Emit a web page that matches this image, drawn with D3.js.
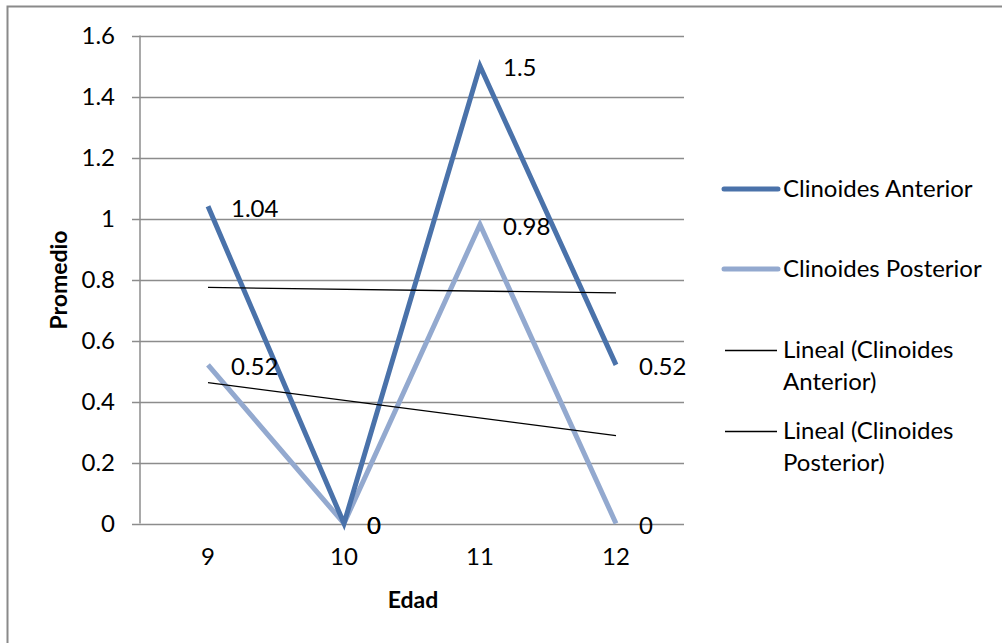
<!DOCTYPE html>
<html><head><meta charset="utf-8">
<script src="https://cdn.jsdelivr.net/npm/d3@7"></script>
<style>html,body{margin:0;padding:0;background:#fff;} svg{display:block;}</style>
</head><body>
<script>
const categories = ["9","10","11","12"];
const anterior = [1.04, 0, 1.5, 0.52];
const posterior = [0.52, 0, 0.98, 0];
const yTicks = [0, 0.2, 0.4, 0.6, 0.8, 1, 1.2, 1.4, 1.6];
const seriesNames = ["Clinoides Anterior", "Clinoides Posterior"];
const trendNames = [["Lineal (Clinoides", "Anterior)"], ["Lineal (Clinoides", "Posterior)"]];
const colors = ["#4a72aa", "#93a9cf"];

const W = 1002, H = 643;
const FONT = "Lato, 'Open Sans', sans-serif";
const FS = 24;
const svg = d3.select("body").append("svg").attr("width", W).attr("height", H)
  .style("font-family", FONT);

// outer border
svg.append("path").attr("d", `M7.5,${H} V6.5 H${W}`).attr("fill","none").attr("stroke","#8a8a8a").attr("stroke-width",2);

const plot = {l:140, r:684, t:35.5, b:523.5};
const x = d3.scaleBand().domain(categories).range([plot.l, plot.r]);
const y = d3.scaleLinear().domain([0,1.6]).range([plot.b, plot.t]);
const cx = c => x(c) + x.bandwidth()/2;

// gridlines
svg.append("g").selectAll("line").data(yTicks).join("line")
  .attr("x1", plot.l-8).attr("x2", plot.r)
  .attr("y1", d=>Math.round(y(d))+0.5).attr("y2", d=>Math.round(y(d))+0.5)
  .attr("stroke","#8c8c8c").attr("stroke-width",1.5);
// y axis line
svg.append("line").attr("x1",plot.l).attr("x2",plot.l).attr("y1",plot.t).attr("y2",plot.b)
  .attr("stroke","#8c8c8c").attr("stroke-width",1.5);

// y tick labels
svg.append("g").selectAll("text").data(yTicks).join("text")
  .attr("x", 115).attr("y", d=>y(d)).attr("dy","0.35em").attr("text-anchor","end")
  .attr("font-size", FS).attr("fill","#000").text(d=>String(d));
// x tick labels
svg.append("g").selectAll("text").data(categories).join("text")
  .attr("x", d=>cx(d)).attr("y", 557).attr("dy","0.35em").attr("text-anchor","middle")
  .attr("font-size", FS).attr("fill","#000").text(d=>d);

// axis titles
svg.append("text").attr("transform","translate(59,280) rotate(-90)").attr("text-anchor","middle")
  .attr("dy","0.35em").attr("font-size",FS-1).attr("font-weight","bold").text("Promedio");
svg.append("text").attr("x",413).attr("y",600).attr("text-anchor","middle")
  .attr("dy","0.35em").attr("font-size",FS-1).attr("font-weight","bold").text("Edad");

// trendlines (linear least squares)
function trend(vals){
  const xs = vals.map((_,i)=>i+1);
  const mx = d3.mean(xs), my = d3.mean(vals);
  const b = d3.sum(xs.map((xi,i)=>(xi-mx)*(vals[i]-my))) / d3.sum(xs.map(xi=>(xi-mx)**2));
  const a = my - b*mx;
  return xs.map(xi=>a+b*xi);
}
const line = d3.line().x((d,i)=>cx(categories[i])).y(d=>y(d));

[posterior, anterior].forEach((vals,k)=>{
  const c = k===0 ? colors[1] : colors[0];
  svg.append("path").datum(vals).attr("d", line).attr("fill","none")
    .attr("stroke", c).attr("stroke-width", 5).attr("stroke-linejoin","miter");
});
[anterior, posterior].forEach(vals=>{
  const t = trend(vals);
  svg.append("path").datum([t[0], t[3]]).attr("d", d3.line().x((d,i)=>cx(categories[i*3])).y(d=>y(d)))
    .attr("fill","none").attr("stroke","#000").attr("stroke-width",1.3);
});

// data labels
[anterior, posterior].forEach(vals=>{
  svg.append("g").selectAll("text").data(vals).join("text")
    .attr("x",(d,i)=>cx(categories[i])+23).attr("y",d=>y(d)+2).attr("dy","0.35em")
    .attr("font-size",FS).attr("fill","#000").text(d=>String(d));
});

// legend
const leg = svg.append("g");
const legY = [189, 269];
seriesNames.forEach((n,i)=>{
  leg.append("line").attr("x1",724).attr("x2",778).attr("y1",legY[i]).attr("y2",legY[i])
    .attr("stroke",colors[i]).attr("stroke-width",5).attr("stroke-linecap","round");
  leg.append("text").attr("x",783).attr("y",legY[i]).attr("dy","0.35em").attr("font-size",FS).text(n);
});
const trY = [350, 431];
trendNames.forEach((lines,i)=>{
  leg.append("line").attr("x1",725).attr("x2",777).attr("y1",trY[i]+0.5).attr("y2",trY[i]+0.5)
    .attr("stroke","#000").attr("stroke-width",1.3);
  lines.forEach((t,j)=>{
    leg.append("text").attr("x",783).attr("y",trY[i]+j*32).attr("dy","0.35em").attr("font-size",FS).text(t);
  });
});
</script>
</body></html>
